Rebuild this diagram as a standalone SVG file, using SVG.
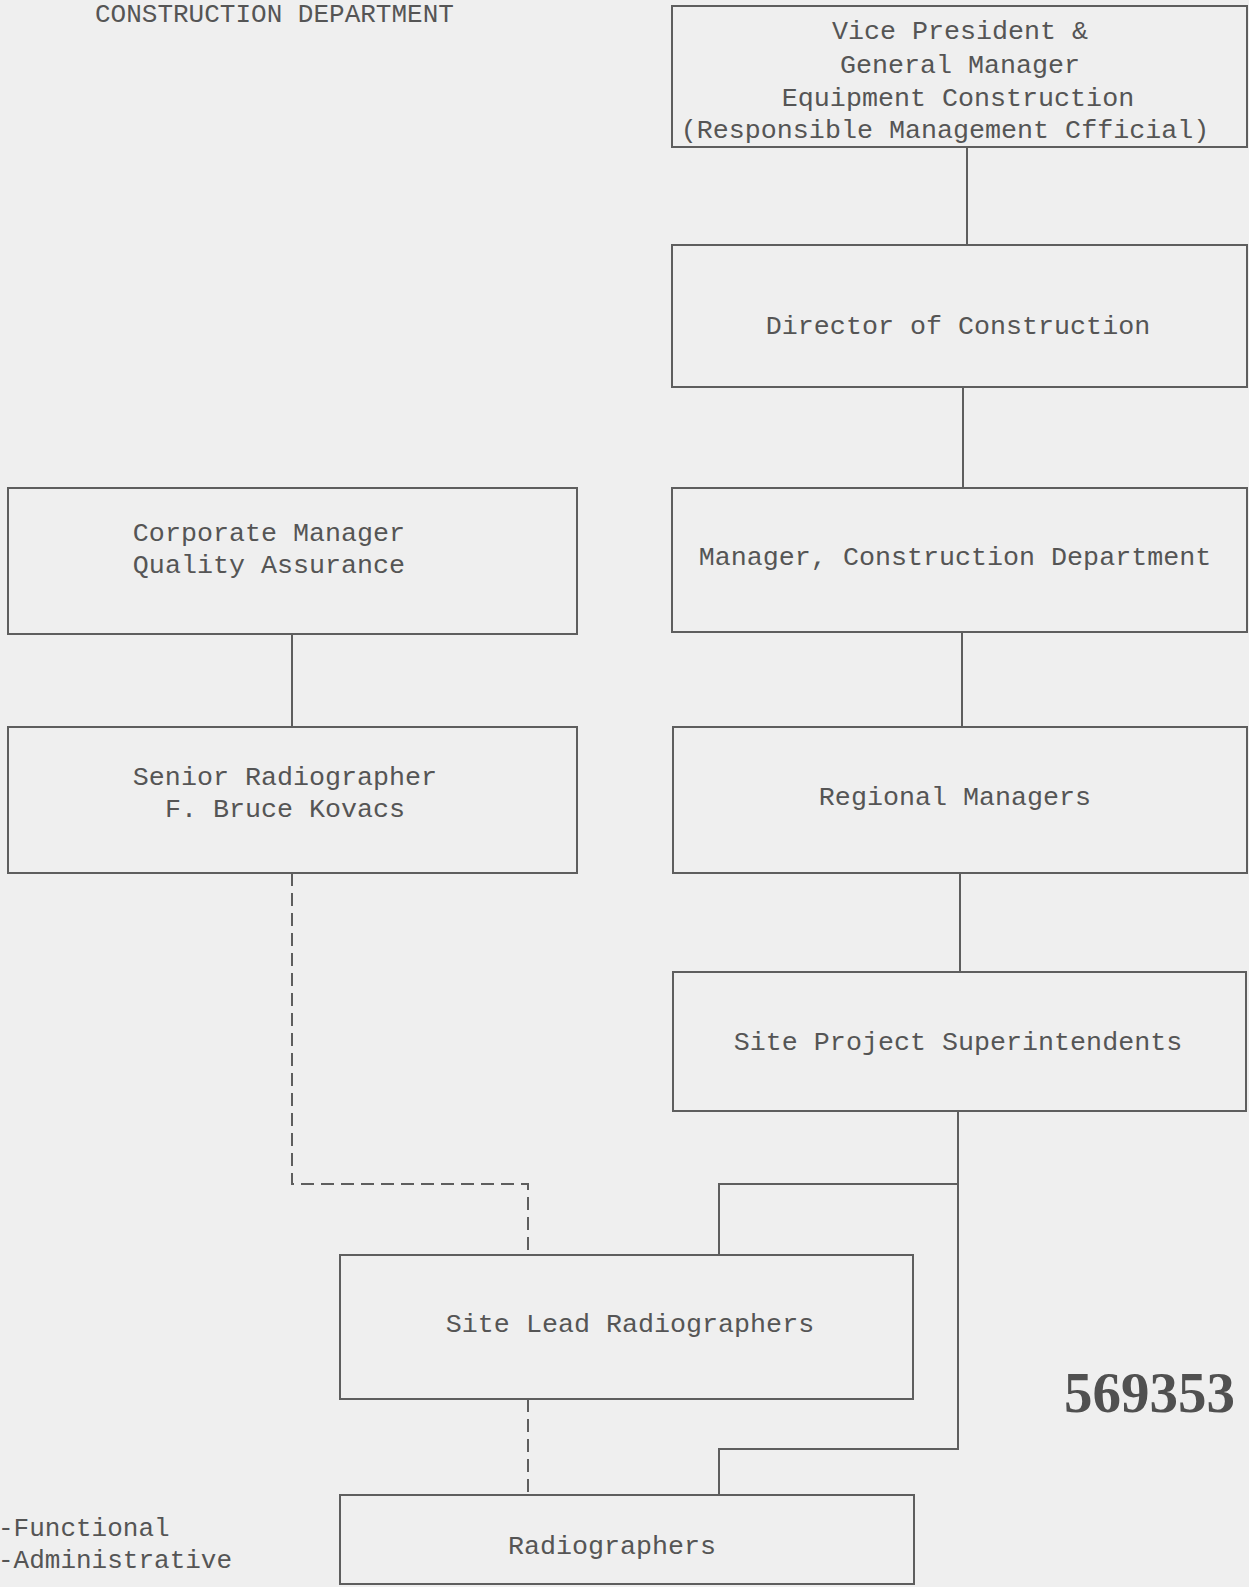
<svg xmlns="http://www.w3.org/2000/svg" width="1249" height="1587" viewBox="0 0 1249 1587">
<style>
.bg{fill:#efefef}
.box{fill:none;stroke:#5e5e5e;stroke-width:2}
.t{font-family:"Liberation Mono","Courier New",monospace;font-size:26.7px;fill:#555;text-anchor:middle}
.l{font-family:"Liberation Mono","Courier New",monospace;font-size:26px;fill:#555}
.c{fill:none;stroke:#5e5e5e;stroke-width:2}
.d{fill:none;stroke:#5e5e5e;stroke-width:2;stroke-dasharray:13 7}
.num{font-family:"Liberation Serif","Times New Roman",serif;font-size:57px;fill:#505050;font-weight:bold}
</style>
<rect class="bg" x="0" y="0" width="1249" height="1587"/>
<text class="l" x="95" y="22">CONSTRUCTION DEPARTMENT</text>
<g id="connectors">
<line class="c" x1="967" y1="147" x2="967" y2="245"/>
<line class="c" x1="963" y1="387" x2="963" y2="488"/>
<line class="c" x1="962" y1="632" x2="962" y2="727"/>
<line class="c" x1="960" y1="873" x2="960" y2="972"/>
<polyline class="c" points="958,1111 958,1449 719,1449 719,1495"/>
<polyline class="c" points="958,1184 719,1184 719,1255"/>
<line class="c" x1="292" y1="634" x2="292" y2="727"/>
<polyline class="d" points="292,873 292,1184 528,1184 528,1255"/>
<line class="d" x1="528" y1="1399" x2="528" y2="1495"/>
</g>
<g id="vp">
<rect class="box" x="672" y="6" width="575" height="141"/>
<text class="t" x="960" y="39">Vice President &amp;</text>
<text class="t" x="960" y="73">General Manager</text>
<text class="t" x="958" y="106">Equipment Construction</text>
<text class="t" x="945" y="138">(Responsible Management Cfficial)</text>
</g>
<g id="director">
<rect class="box" x="672" y="245" width="575" height="142"/>
<text class="t" x="958" y="334">Director of Construction</text>
</g>
<g id="manager">
<rect class="box" x="672" y="488" width="575" height="144"/>
<text class="t" x="955" y="565">Manager, Construction Department</text>
</g>
<g id="regional">
<rect class="box" x="673" y="727" width="574" height="146"/>
<text class="t" x="955" y="805">Regional Managers</text>
</g>
<g id="siteproject">
<rect class="box" x="673" y="972" width="573" height="139"/>
<text class="t" x="958" y="1050">Site Project Superintendents</text>
</g>
<g id="corpqa">
<rect class="box" x="8" y="488" width="569" height="146"/>
<text class="t" x="269" y="541">Corporate Manager</text>
<text class="t" x="269" y="573">Quality Assurance</text>
</g>
<g id="senior">
<rect class="box" x="8" y="727" width="569" height="146"/>
<text class="t" x="285" y="785">Senior Radiographer</text>
<text class="t" x="285" y="817">F. Bruce Kovacs</text>
</g>
<g id="sitelead">
<rect class="box" x="340" y="1255" width="573" height="144"/>
<text class="t" x="630" y="1332">Site Lead Radiographers</text>
</g>
<g id="radiographers">
<rect class="box" x="340" y="1495" width="574" height="89"/>
<text class="t" x="612" y="1554">Radiographers</text>
</g>
<g id="legend">
<text class="l" x="-2" y="1536">-Functional</text>
<text class="l" x="-2" y="1568">-Administrative</text>
</g>
<text class="num" x="1064" y="1412">569353</text>
</svg>
